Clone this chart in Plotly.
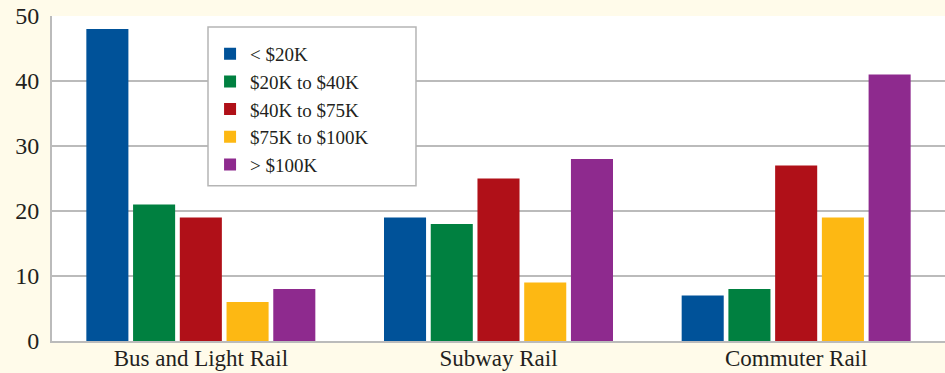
import plotly.graph_objects as go

categories = ["Bus and Light Rail", "Subway Rail", "Commuter Rail"]
series_names = ["< $20K", "$20K to $40K", "$40K to $75K", "$75K to $100K", "> $100K"]
under_20k = [48, 19, 7]
k20_40 = [21, 18, 8]
k40_75 = [19, 25, 27]
k75_100 = [6, 9, 19]
over_100k = [8, 28, 41]
colors = ["#005299", "#008040", "#b01018", "#fdb813", "#8e2a8e"]
y_ticks = [0, 10, 20, 30, 40, 50]

series = [under_20k, k20_40, k40_75, k75_100, over_100k]

fig = go.Figure()
for name, vals, col in zip(series_names, series, colors):
    fig.add_trace(go.Bar(x=categories, y=vals, name=name,
                         marker=dict(color=col, line=dict(width=0))))

font_family = "Liberation Serif"
# legend frame drawn as a paper-space box (gives the roomier padding of the original)
fig.add_shape(type="rect", xref="paper", yref="paper",
              x0=0.1747, x1=0.4076, y0=0.478, y1=0.966,
              fillcolor="#ffffff", line=dict(color="#b5b5b5", width=1.5),
              layer="above")

fig.update_layout(
    width=945, height=373,
    margin=dict(l=52, r=0, t=16, b=32),
    paper_bgcolor="#fffbea",
    plot_bgcolor="#ffffff",
    barmode="group",
    bargap=0.215,
    bargroupgap=0.1,
    font=dict(family=font_family, color="#231f20"),
    legend=dict(
        x=0.177, y=0.942, xanchor="left", yanchor="top",
        bgcolor="rgba(0,0,0,0)", borderwidth=0,
        font=dict(size=19, family=font_family, color="#231f20"),
        tracegroupgap=0,
    ),
    xaxis=dict(
        showline=True, linecolor="#bbbbbb", linewidth=2,
        tickfont=dict(size=23, family=font_family), ticks="", range=[-0.5, 2.5],
        automargin=False, ticklabelstandoff=-5,
    ),
    yaxis=dict(
        range=[0, 50], tickvals=y_ticks, showgrid=True,
        gridcolor="#bbbbbb", gridwidth=1.5,
        showline=True, linecolor="#bbbbbb", linewidth=2,
        tickfont=dict(size=24, family=font_family), ticks="", zeroline=False,
        automargin=False, ticklabelstandoff=6,
    ),
)

fig.write_html("out.html")
